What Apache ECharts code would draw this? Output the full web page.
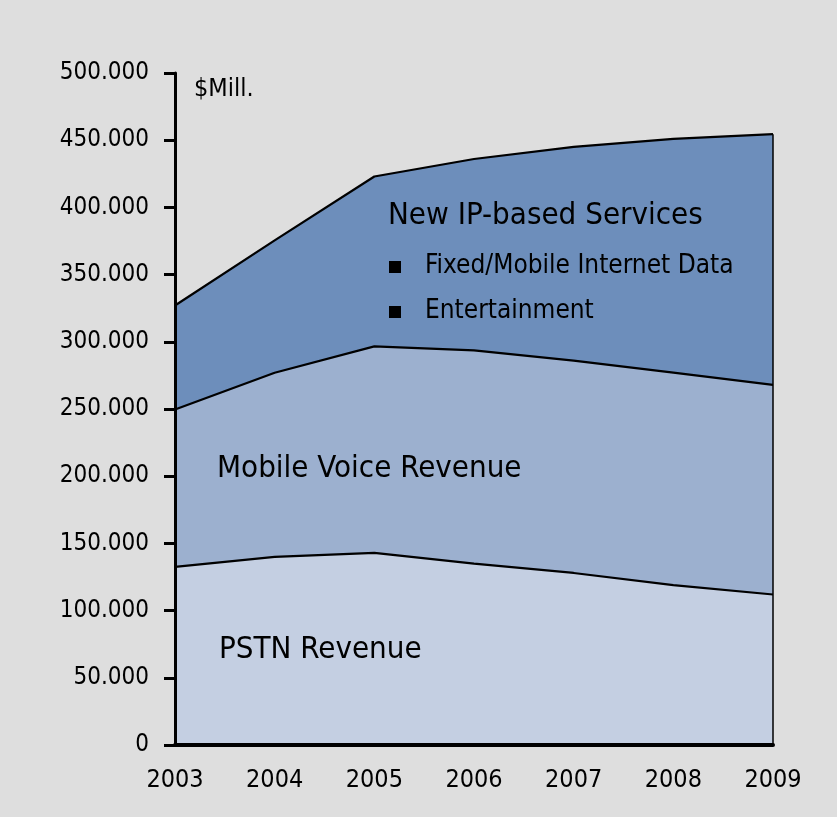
<!DOCTYPE html>
<html>
<head>
<meta charset="utf-8">
<script src="https://cdn.jsdelivr.net/npm/echarts@6/dist/echarts.min.js"></script>
<style>
    html, body { margin: 0; padding: 0; background: #dedede; }
    #chart { width: 837px; height: 817px; }
</style>
</head>
<body>
<div id="chart"></div>
<script>
    const years = ['2003', '2004', '2005', '2006', '2007', '2008', '2009']
    // $Mill., stacked
    const pstn = [132600, 140000, 143000, 135000, 128000, 119000, 112000]
    const mobileVoice = [117000, 137000, 153600, 158600, 158000, 158000, 156000]
    const ipServices = [77400, 98500, 126400, 142400, 159000, 174000, 186500]

    const font = "'DejaVu Sans Condensed', 'Liberation Sans', sans-serif"
    const lineStyle = {color: '#000', width: 2.2}

    const last = years.length - 1
    const lastTotal = pstn[last] + mobileVoice[last] + ipServices[last]

    const chart = echarts.init(document.getElementById('chart'))

    const option = {
        backgroundColor: '#dedede',
        animation: false,
        grid: {left: 175, right: 64, top: 73, bottom: 72},
        xAxis: {
            type: 'category',
            boundaryGap: false,
            data: years,
            z: 10,
            axisLine: {lineStyle: {color: '#000', width: 4}},
            axisTick: {show: false},
            axisLabel: {color: '#000', fontSize: 25, fontFamily: font, margin: 23}
        },
        yAxis: {
            type: 'value',
            min: 0,
            max: 500000,
            interval: 50000,
            z: 10,
            splitLine: {show: false},
            axisLine: {show: true, lineStyle: {color: '#000', width: 3}},
            axisTick: {show: true, length: 11, lineStyle: {color: '#000', width: 3}},
            axisLabel: {
                color: '#000', fontSize: 24, fontFamily: font, margin: 26,
                formatter: v => v === 0 ? '0' : (v / 1000) + '.000'
            }
        },
        series: [
            {
                name: 'PSTN Revenue',
                type: 'line',
                stack: 'total',
                data: pstn,
                showSymbol: false,
                lineStyle: lineStyle,
                areaStyle: {color: '#c4cfe2', opacity: 1}
            },
            {
                name: 'Mobile Voice Revenue',
                type: 'line',
                stack: 'total',
                data: mobileVoice,
                showSymbol: false,
                lineStyle: lineStyle,
                areaStyle: {color: '#9cb0cf', opacity: 1}
            },
            {
                name: 'New IP-based Services',
                type: 'line',
                stack: 'total',
                data: ipServices,
                showSymbol: false,
                lineStyle: lineStyle,
                areaStyle: {color: '#6d8ebb', opacity: 1},
                markLine: {
                    silent: true,
                    symbol: 'none',
                    label: {show: false},
                    lineStyle: {color: '#000', width: 1.5, type: 'solid'},
                    data: [[{coord: [years[last], 0]}, {coord: [years[last], lastTotal]}]]
                }
            }
        ],
        graphic: [
            {type: 'text', z: 100, left: 194, top: 77, style: {text: '$Mill.', font: '25px ' + font, fill: '#000'}},
            {type: 'text', z: 100, left: 388, top: 200, style: {text: 'New IP-based Services', font: '31px ' + font, fill: '#000'}},
            {type: 'rect', z: 100, shape: {x: 389, y: 261, width: 12, height: 12}, style: {fill: '#000'}},
            {type: 'text', z: 100, left: 425, top: 253, style: {text: 'Fixed/Mobile Internet Data', font: '26px ' + font, fill: '#000'}},
            {type: 'rect', z: 100, shape: {x: 389, y: 306, width: 12, height: 12}, style: {fill: '#000'}},
            {type: 'text', z: 100, left: 425, top: 298, style: {text: 'Entertainment', font: '26px ' + font, fill: '#000'}},
            {type: 'text', z: 100, left: 217, top: 453, style: {text: 'Mobile Voice Revenue', font: '31px ' + font, fill: '#000'}},
            {type: 'text', z: 100, left: 219, top: 634, style: {text: 'PSTN Revenue', font: '31px ' + font, fill: '#000'}}
        ]
    }

    chart.setOption(option)
</script>
</body>
</html>
